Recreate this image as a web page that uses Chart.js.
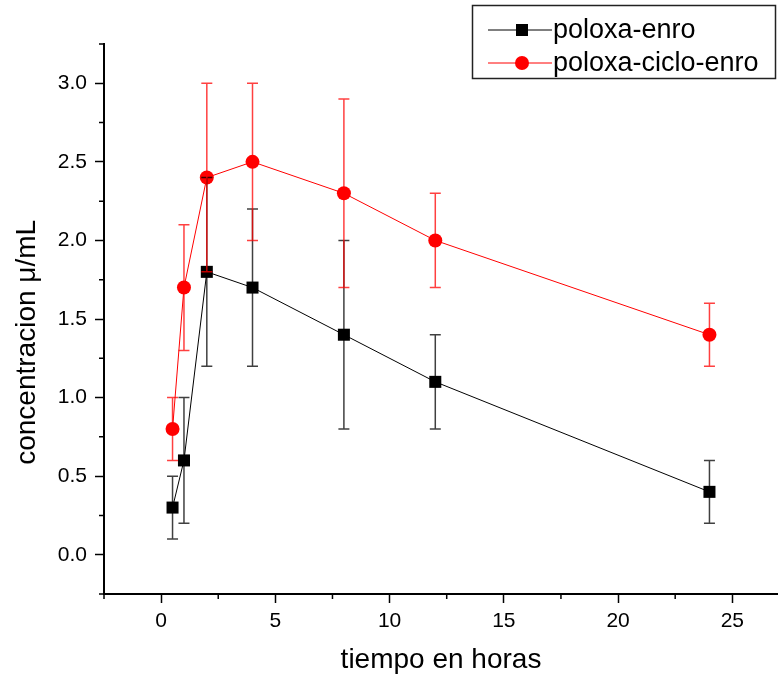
<!DOCTYPE html>
<html>
<head>
<meta charset="utf-8">
<script src="https://cdn.jsdelivr.net/npm/chart.js@4"></script>
<style>
  body { margin: 0; background: #fff; overflow: hidden; }
  canvas { display: block; }
</style>
</head>
<body>
<canvas id="myChart" width="778" height="685"></canvas>
<script>
// data
const hours = [0.5, 1, 2, 4, 8, 12, 24];
const poloxaEnro = [0.3, 0.6, 1.8, 1.7, 1.4, 1.1, 0.4];
const poloxaEnroErr = [0.2, 0.4, 0.6, 0.5, 0.6, 0.3, 0.2];
const poloxaCicloEnro = [0.8, 1.7, 2.4, 2.5, 2.3, 2.0, 1.4];
const poloxaCicloEnroErr = [0.2, 0.4, 0.6, 0.5, 0.6, 0.3, 0.2];

const xTicks = [0, 5, 10, 15, 20, 25];
const xMinor = [-2.5, 2.5, 7.5, 12.5, 17.5, 22.5];
const yTicks = [0, 0.5, 1, 1.5, 2, 2.5, 3];
const yMinor = [-0.25, 0.25, 0.75, 1.25, 1.75, 2.25, 2.75, 3.25];

const FONT = "'Liberation Sans', Arial, sans-serif";
const NARROW = "'Liberation Sans Narrow', 'Arial Narrow', 'Liberation Sans', sans-serif";

function points(xs, ys) {
  return xs.map((x, i) => ({ x: x, y: ys[i] }));
}

// error bars, drawn after the series so caps sit on top like the original
const errorBars = {
  id: 'errorBars',
  afterDatasetsDraw(chart) {
    const ctx = chart.ctx;
    const sx = chart.scales.x;
    const sy = chart.scales.y;
    chart.data.datasets.forEach((ds) => {
      ctx.save();
      ctx.strokeStyle = ds.errorColor;
      ctx.lineWidth = 1.5;
      ds.data.forEach((p, i) => {
        const e = ds.errors[i];
        const px = sx.getPixelForValue(p.x);
        const top = sy.getPixelForValue(p.y + e);
        const bot = sy.getPixelForValue(p.y - e);
        ctx.beginPath();
        ctx.moveTo(px, top); ctx.lineTo(px, bot);
        ctx.moveTo(px - 5.5, top); ctx.lineTo(px + 5.5, top);
        ctx.moveTo(px - 5.5, bot); ctx.lineTo(px + 5.5, bot);
        ctx.stroke();
      });
      ctx.restore();
    });
  }
};

// short minor ticks on both axes
const minorTicks = {
  id: 'minorTicks',
  afterDraw(chart) {
    const ctx = chart.ctx;
    const area = chart.chartArea;
    const sx = chart.scales.x;
    const sy = chart.scales.y;
    ctx.save();
    ctx.strokeStyle = '#000';
    ctx.lineWidth = 1.5;
    ctx.beginPath();
    xMinor.forEach((v) => {
      const px = sx.getPixelForValue(v);
      ctx.moveTo(px, area.bottom); ctx.lineTo(px, area.bottom + 5);
    });
    yMinor.forEach((v) => {
      const py = sy.getPixelForValue(v);
      ctx.moveTo(area.left, py); ctx.lineTo(area.left - 5, py);
    });
    ctx.stroke();
    ctx.restore();
  }
};

// boxed legend at top right
const boxLegend = {
  id: 'boxLegend',
  afterDraw(chart) {
    const ctx = chart.ctx;
    ctx.save();
    ctx.strokeStyle = '#222';
    ctx.lineWidth = 1.5;
    ctx.strokeRect(472.5, 5.5, 303, 73);
    const rows = [30, 63];
    chart.data.datasets.forEach((ds, i) => {
      const y = rows[i];
      ctx.strokeStyle = ds.borderColor;
      ctx.lineWidth = 1;
      ctx.beginPath();
      ctx.moveTo(488, y); ctx.lineTo(552, y);
      ctx.stroke();
      ctx.fillStyle = ds.backgroundColor;
      if (ds.pointStyle === 'rect') {
        ctx.fillRect(516, y - 6, 12, 12);
      } else {
        ctx.beginPath();
        ctx.arc(522, y, 7, 0, Math.PI * 2);
        ctx.fill();
      }
      ctx.fillStyle = '#000';
      ctx.font = '27px ' + FONT;
      ctx.textBaseline = 'middle';
      ctx.fillText(ds.label, 553, y + 1);
    });
    ctx.restore();
  }
};

const barCanvas = document.getElementById('myChart');

new Chart(barCanvas, {
  type: 'scatter',
  data: {
    datasets: [{
      label: 'poloxa-enro',
      data: points(hours, poloxaEnro),
      errors: poloxaEnroErr,
      errorColor: 'rgba(0,0,0,0.75)',
      showLine: true,
      borderColor: '#000',
      backgroundColor: '#000',
      borderWidth: 1,
      pointStyle: 'rect',
      pointRadius: 8.5,
      pointBorderWidth: 0,
      tension: 0
    }, {
      label: 'poloxa-ciclo-enro',
      data: points(hours, poloxaCicloEnro),
      errors: poloxaCicloEnroErr,
      errorColor: 'rgba(255,0,0,0.75)',
      showLine: true,
      borderColor: '#ff0000',
      backgroundColor: '#ff0000',
      borderWidth: 1,
      pointStyle: 'circle',
      pointRadius: 7,
      pointBorderWidth: 0,
      tension: 0
    }]
  },
  options: {
    responsive: false,
    animation: false,
    layout: {
      autoPadding: false,
      padding: { top: 44, right: 0, bottom: 0, left: 0 }
    },
    plugins: {
      legend: { display: false },
      tooltip: { enabled: false }
    },
    scales: {
      x: {
        type: 'linear',
        min: -2.5,
        max: 27,
        afterBuildTicks: (scale) => { scale.ticks = xTicks.map((v) => ({ value: v })); },
        afterFit: (scale) => { scale.height = 91; },
        border: { display: true, color: '#000', width: 2 },
        grid: {
          drawOnChartArea: false,
          drawTicks: true,
          tickLength: 9,
          tickWidth: 1.5,
          tickColor: '#000'
        },
        ticks: {
          color: '#000',
          padding: 6,
          maxRotation: 0,
          font: { family: NARROW, size: 21 }
        },
        title: {
          display: true,
          text: 'tiempo en horas',
          color: '#000',
          padding: { top: 0, bottom: 8 },
          font: { family: FONT, size: 28 }
        }
      },
      y: {
        type: 'linear',
        min: -0.25,
        max: 3.25,
        afterBuildTicks: (scale) => { scale.ticks = yTicks.map((v) => ({ value: v })); },
        afterFit: (scale) => { scale.width = 104; },
        border: { display: true, color: '#000', width: 2 },
        grid: {
          drawOnChartArea: false,
          drawTicks: true,
          tickLength: 9,
          tickWidth: 1.5,
          tickColor: '#000'
        },
        ticks: {
          color: '#000',
          padding: 8,
          font: { family: FONT, size: 21 },
          callback: (v) => Number(v).toFixed(1)
        },
        title: {
          display: true,
          // trailing spaces nudge the label down, as in the original
          text: 'concentracion μ/mL      ',
          color: '#000',
          padding: { top: 10, bottom: 0 },
          font: { family: FONT, size: 28 }
        }
      }
    }
  },
  plugins: [errorBars, minorTicks, boxLegend]
});
</script>
</body>
</html>
